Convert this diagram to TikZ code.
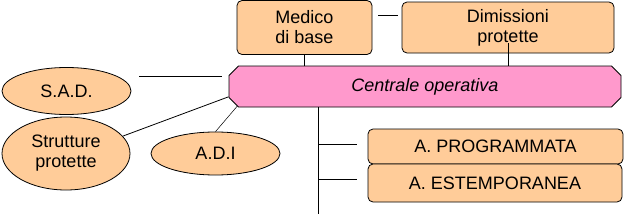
\documentclass[tikz,border=0pt]{standalone}
\usepackage{fontspec}
\setmainfont{Liberation Sans}
\usetikzlibrary{calc,shapes.geometric,shapes.misc}
\definecolor{peach}{HTML}{FFCC99}
\definecolor{rosa}{HTML}{FF99CC}
\tikzset{
  box/.style={draw, rectangle, rounded corners=5pt, fill=peach, align=center, line width=0.8pt, inner sep=0pt, font=\fontsize{18}{20}\selectfont},
  ell/.style={draw, ellipse, fill=peach, align=center, line width=0.8pt, inner sep=0pt, font=\fontsize{18}{20}\selectfont},
  centrale/.style={draw, chamfered rectangle, chamfered rectangle angle=45, chamfered rectangle xsep=6pt, fill=rosa, line width=0.8pt, inner sep=0pt, minimum width=392pt, minimum height=41pt, font=\fontsize{18}{20}\selectfont\itshape},
  link/.style={line width=0.8pt},
}
\begin{document}
\begin{tikzpicture}[x=1pt,y=-1pt]
\useasboundingbox (0,0) rectangle (630,214);
\node[box, minimum width=135pt, minimum height=54pt] (med) at (304.5,27.5) {Medico\\di base};
\node[box, minimum width=212pt, minimum height=51pt] (dim) at (508,27.5) {Dimissioni\\protette};
\node[centrale] (cen) at (425,86.5) {Centrale operativa};
\node[ell, minimum width=129pt, minimum height=47pt] (sad) at (66.5,91) {S.A.D.};
\node[ell, minimum width=128pt, minimum height=73pt] (str) at (66,153.5) {Strutture\\protette};
\node[ell, minimum width=129pt, minimum height=43pt] (adi) at (215.5,153.5) {A.D.I};
\node[box, minimum width=255pt, minimum height=35pt] (prog) at (495.5,146.5) {A. PROGRAMMATA};
\node[box, minimum width=254pt, minimum height=38pt] (est) at (495,183) {A. ESTEMPORANEA};
\coordinate (bot) at (318,214);
% connectors
\draw[link] ($(med.east)+(6,-12.5)$) -- ($(dim.west)+(-4,-12.5)$);
\draw[link] (med.south) -- (med.south |- cen.north);
\draw[link] ($(dim.center)+(0,15.5)$) -- (dim.center |- cen.north);
\draw[link] ($(sad.east)+(8,-15)$) -- ($(cen.west)+(-7,-10.5)$);
\draw[link] (str.17) -- (cen.183);
\draw[link, line width=0.5pt] (adi.north) -- (cen.186.4);
\draw[link] (bot |- cen.south) -- (bot);
\draw[link] (bot |- 0,144) -- ($(prog.west)+(-11,-2.5)$);
\draw[link] (bot |- 0,179) -- ($(est.west)+(-11,-4)$);
\end{tikzpicture}
\end{document}
